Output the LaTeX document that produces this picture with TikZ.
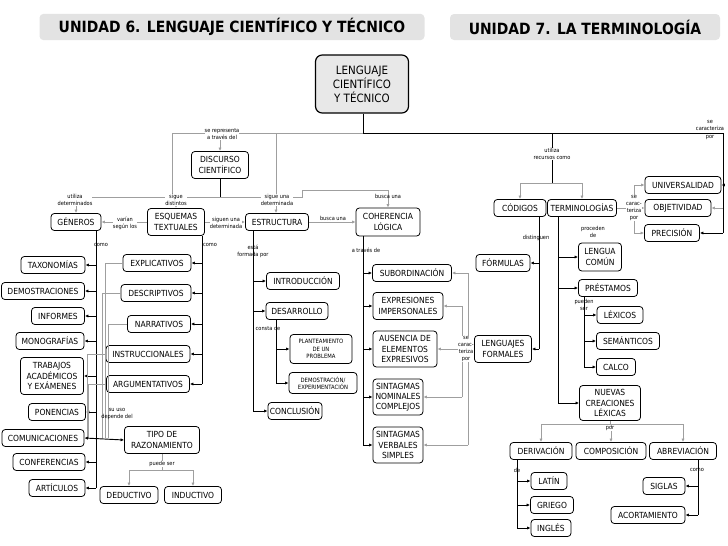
\documentclass[tikz,border=0pt]{standalone}
\usepackage{fontspec}
\setmainfont{DejaVu Sans Condensed}
\usetikzlibrary{arrows.meta}
\tikzset{
  box/.style={draw,rounded corners=2.5pt,line width=0.6pt,align=center,inner sep=0.5pt,font=\fontsize{6.3}{7.6}\selectfont},
  lab/.style={inner sep=0pt,align=center,font=\fontsize{4.2}{5.4}\selectfont},
  blk/.style={line width=0.7pt},
  gry/.style={draw=gray!75,line width=0.5pt},
  tip/.style={-{Latex[length=2.6pt,width=2.4pt]}},
}
\newcommand\bx[6]{\node[box,minimum width=#4*0.75pt,minimum height=#5*0.75pt] (#1) at (#2,#3) {#6};}
\begin{document}
\begin{tikzpicture}[x=0.75pt,y=-0.75pt]
\useasboundingbox (0,0) rectangle (728,546);
% titles
\node[fill=gray!22,rounded corners=3pt,minimum width=385*0.75pt,minimum height=26*0.75pt,font=\bfseries\fontsize{11.6}{13}\selectfont] (t1) at (232,27) {UNIDAD 6. LENGUAJE CIENTÍFICO Y TÉCNICO};
\node[fill=gray!22,rounded corners=3pt,minimum width=270*0.75pt,minimum height=26*0.75pt,font=\bfseries\fontsize{11.6}{13}\selectfont] (t2) at (585,27) {UNIDAD 7. LA TERMINOLOGÍA};
\node[draw,fill=gray!18,rounded corners=5pt,line width=0.9pt,align=center,minimum width=93*0.75pt,minimum height=58*0.75pt,inner sep=1pt,font=\fontsize{8.6}{10.4}\selectfont] (len) at (362,84) {LENGUAJE\\CIENTÍFICO\\Y TÉCNICO};
% left nodes
\bx{dis}{220}{165}{57}{27}{DISCURSO\\CIENTÍFICO}
\bx{gen}{76}{222}{50}{17}{GÉNEROS}
\bx{esq}{176}{222}{57}{27}{ESQUEMAS\\TEXTUALES}
\bx{est}{277}{222}{63}{17}{ESTRUCTURA}
\bx{coh}{388}{222}{64}{28}{COHERENCIA\\LÓGICA}
\bx{exp}{157}{263}{68}{17}{EXPLICATIVOS}
\bx{tax}{53}{265}{64}{17}{TAXONOMÍAS}
\bx{dem}{43}{291}{83}{17}{DEMOSTRACIONES}
\bx{des}{156}{293}{70}{17}{DESCRIPTIVOS}
\bx{inf}{58}{316}{53}{17}{INFORMES}
\bx{nar}{159}{324}{63}{17}{NARRATIVOS}
\bx{int}{303}{281}{73}{17}{INTRODUCCIÓN}
\bx{desa}{297}{311}{62}{17}{DESARROLLO}
\bx{mon}{50}{341}{68}{17}{MONOGRAFÍAS}
\bx{ins}{148}{354}{84}{17}{INSTRUCCIONALES}
\bx{tra}{52}{376}{63}{37}{TRABAJOS\\ACADÉMICOS\\Y EXÁMENES}
\bx{arg}{148}{384}{83}{17}{ARGUMENTATIVOS}
\bx{pon}{57}{412}{57}{17}{PONENCIAS}
\bx{com}{43}{438}{82}{17}{COMUNICACIONES}
\bx{tip}{162}{440}{75}{27}{TIPO DE\\RAZONAMIENTO}
\bx{con}{49}{462}{72}{17}{CONFERENCIAS}
\bx{art}{57}{488}{56}{17}{ARTÍCULOS}
\bx{ded}{129}{495}{58}{17}{DEDUCTIVO}
\bx{ind}{193}{495}{57}{17}{INDUCTIVO}
\node[box,minimum width=62*0.75pt,minimum height=29*0.75pt,font=\fontsize{4.4}{5.4}\selectfont] (pla) at (321,349) {PLANTEAMIENTO\\DE UN\\PROBLEMA};
\node[box,minimum width=68*0.75pt,minimum height=21*0.75pt,font=\fontsize{4.4}{5.4}\selectfont] (demo) at (323,383) {DEMOSTRACIÓN/\\EXPERIMENTACIÓN};
\bx{conc}{295}{411}{54}{17}{CONCLUSIÓN}
\bx{sub}{412}{273}{79}{17}{SUBORDINACIÓN}
\bx{expr}{408}{306}{70}{27}{EXPRESIONES\\IMPERSONALES}
\bx{aus}{405}{349}{64}{36}{AUSENCIA DE\\ELEMENTOS\\EXPRESIVOS}
\bx{snc}{398}{397}{50}{36}{SINTAGMAS\\NOMINALES\\COMPLEJOS}
\bx{svs}{398}{445}{50}{36}{SINTAGMAS\\VERBALES\\SIMPLES}
% right nodes
\bx{cod}{520}{208}{52}{17}{CÓDIGOS}
\bx{ter}{582}{208}{69}{17}{TERMINOLOGÍAS}
\bx{uni}{683}{185}{76}{17}{UNIVERSALIDAD}
\bx{obj}{678}{208}{66}{17}{OBJETIVIDAD}
\bx{pre}{672}{233}{55}{17}{PRECISIÓN}
\bx{for}{503}{263}{54}{17}{FÓRMULAS}
\bx{lc}{600}{257}{43}{28}{LENGUA\\COMÚN}
\bx{pres}{608}{288}{59}{17}{PRÉSTAMOS}
\bx{lex}{620}{315}{46}{17}{LÉXICOS}
\bx{sem}{628}{341}{63}{17}{SEMÁNTICOS}
\bx{lf}{503}{349}{57}{27}{LENGUAJES\\FORMALES}
\bx{cal}{616}{367}{39}{17}{CALCO}
\bx{nue}{610}{403}{61}{35}{NUEVAS\\CREACIONES\\LÉXICAS}
\bx{der}{541}{451}{62}{17}{DERIVACIÓN}
\bx{comp}{611}{451}{70}{17}{COMPOSICIÓN}
\bx{abr}{683}{451}{67}{17}{ABREVIACIÓN}
\bx{lat}{549}{481}{36}{17}{LATÍN}
\bx{sig}{664}{486}{42}{17}{SIGLAS}
\bx{gri}{552}{505}{43}{17}{GRIEGO}
\bx{aco}{648}{515}{74}{17}{ACORTAMIENTO}
\bx{ing}{551}{528}{40}{17}{INGLÉS}
% coordinates
\coordinate (top) at (363,133);
\coordinate (gx) at (96,0);
\coordinate (ex) at (202,0);
\coordinate (sx) at (253,0);
\coordinate (dx) at (276,0);
\coordinate (cx) at (363,0);
\coordinate (kx) at (539,0);
\coordinate (tx) at (558,0);
\coordinate (px) at (584,0);
\coordinate (vx) at (517,0);
\coordinate (ax) at (698,0);
% main connectors
\draw[blk] (len.south -| top) -- (top) -- (723,133) -- (723,233);
\draw[blk,tip] (723,185) -- (uni.east);
\draw[blk,tip] (723,233) -- (pre.east);
\draw[gry,tip] (723,208) -- (obj.east);
\draw[gry] (top) -- (172,133) -- (172,197);
\draw[gry,tip] (220,133) -- (dis.north);
\draw[gry,tip] (276,133) -- (est.north -| dx) ;
\draw[blk] (dis.south) -- (220,197);
\draw[gry] (76,197) -- (302,197) -- (302,190) -- (388,190);
\draw[gry,tip] (76,197) -- (gen.north);
\draw[gry,tip] (176,197) -- (esq.north);
\draw[gry,tip] (388,190) -- (coh.north);
\draw[gry,tip] (esq.west) -- (gen.east);
\draw[gry,tip] (esq.east) -- (est.west);
\draw[gry,tip] (est.east) -- (coh.west);
% trunks left
\draw[blk] (gen.south -| gx) -- (art.east -| gx);
\foreach \n in {tax,dem,inf,mon,tra,pon,con,art} \draw[blk,tip] (\n.east -| gx) -- (\n.east);
\draw[blk] (esq.south -| ex) -- (arg.east -| ex);
\foreach \n in {exp,des,nar,ins,arg} \draw[blk,tip] (\n.east -| ex) -- (\n.east);
\draw[blk] (est.south -| sx) -- (conc.west -| sx);
\foreach \n in {int,desa,conc} \draw[blk,tip] (\n.west -| sx) -- (\n.west);
\draw[blk] (desa.south -| dx) -- (demo.west -| dx);
\foreach \n in {pla,demo} \draw[blk,tip] (\n.west -| dx) -- (\n.west);
\draw[blk] (coh.south -| cx) -- (svs.west -| cx);
\foreach \n in {sub,expr,aus,snc,svs} \draw[blk,tip] (\n.west -| cx) -- (\n.west);
% gray from text types
\draw[gry] (exp.west) -- (105,263) -- (105,438);
\draw[gry] (des.west) -- (102,293) -- (102,438);
\draw[gry] (nar.west) -- (108,324) -- (108,438);
\draw[gry] (ins.west) -- (87,354) -- (87,438);
\draw[gry] (arg.west) -- (88,384) -- (88,438);
\draw[blk,{Latex[length=2.6pt,width=2.4pt]}-{Latex[length=2.6pt,width=2.4pt]}] (com.east) -- (tip.west);
\draw[gry] (tip.south) -- (162,470);
\draw[gry] (129,470) -- (193,470);
\draw[gry,tip] (129,470) -- (ded.north);
\draw[gry,tip] (193,470) -- (ind.north);
% right
\draw[blk] (552,133) -- (552,183);
\draw[gry] (520,183) -- (582,183);
\draw[gry,tip] (520,183) -- (cod.north);
\draw[gry,tip] (582,183) -- (ter.north);
\draw[gry] (ter.east) -- (634,208);
\draw[gry] (634,185) -- (634,233);
\foreach \n in {uni,obj,pre} \draw[gry,tip] (\n.west -| {(634,0)}) -- (\n.west);
\draw[blk] (cod.south -| kx) -- (lf.east -| kx);
\foreach \n in {for,lf} \draw[blk,tip] (\n.east -| kx) -- (\n.east);
\draw[blk] (ter.south -| tx) -- (nue.west -| tx);
\foreach \n in {lc,pres,nue} \draw[blk,tip] (\n.west -| tx) -- (\n.west);
\draw[blk] (pres.south -| px) -- (cal.west -| px);
\foreach \n in {lex,sem,cal} \draw[blk,tip] (\n.west -| px) -- (\n.west);
\draw[gry,tip] (lf.west) -- (aus.east);
\draw[gry] (468,273) -- (468,445);
\draw[gry,tip] (468,273) -- (sub.east);
\draw[gry,tip] (468,445) -- (svs.east);
\draw[gry] (462,306) -- (462,397);
\draw[gry,tip] (462,306) -- (expr.east);
\draw[gry,tip] (462,397) -- (snc.east);
\draw[gry] (nue.south) -- (610,424);
\draw[gry] (541,424) -- (683,424);
\foreach \n in {der,comp,abr} \draw[gry,tip] (\n.north |- {(0,424)}) -- (\n.north);
\draw[blk] (der.south -| vx) -- (ing.west -| vx);
\foreach \n in {lat,gri,ing} \draw[blk,tip] (\n.west -| vx) -- (\n.west);
\draw[blk] (abr.south -| ax) -- (aco.east -| ax);
\foreach \n in {sig,aco} \draw[blk,tip] (\n.east -| ax) -- (\n.east);
% labels
\node[lab,fill=white] (l1) at (222,134) {se representa\\a través del};
\node[lab,fill=white] (l2) at (75,200) {utiliza\\determinados};
\node[lab,fill=white] (l3) at (176,200) {sigue\\distintos};
\node[lab,fill=white] (l4) at (277,200) {sigue una\\determinada};
\node[lab] (l5) at (388,196) {busca una};
\node[lab,fill=white] (l6) at (125,223) {varían\\según los};
\node[lab,fill=white] (l7) at (226,223) {siguen una\\determinada};
\node[lab,fill=white] (l8) at (333,218) {busca una};
\node[lab] (l9) at (101,245) {como};
\node[lab] (l10) at (210,245) {como};
\node[lab] (l11) at (253,251) {está\\formada por};
\node[lab] (l12) at (366,250) {a través de};
\node[lab] (l13) at (268,328) {consta de};
\node[lab] (l14) at (117,414) {su uso\\depende del};
\node[lab,fill=white] (l15) at (162,464) {puede ser};
\node[lab,fill=white] (l16) at (552,154) {utiliza\\recursos como};
\node[lab] (l17) at (710,130) {se\\caracteriza\\por};
\node[lab,fill=white] (l18) at (634,208) {se\\carac-\\teriza\\por};
\node[lab] (l19) at (593,232) {proceden\\de};
\node[lab] (l20) at (536,238) {distinguen};
\node[lab] (l21) at (584,305) {pueden\\ser};
\node[lab,fill=white] (l22) at (466,349) {se\\carac-\\teriza\\por};
\node[lab,fill=white] (l23) at (610,429) {por};
\node[lab] (l24) at (517,470) {de};
\node[lab] (l25) at (697,470) {como};
\end{tikzpicture}
\end{document}
